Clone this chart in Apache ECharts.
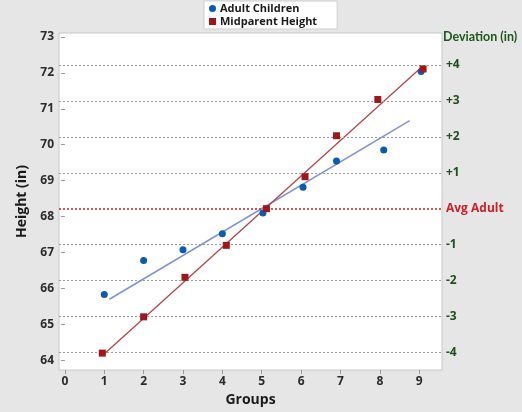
<!DOCTYPE html>
<html>
<head>
<meta charset="utf-8">
<script src="https://cdn.jsdelivr.net/npm/echarts@6/dist/echarts.min.js"></script>
<style>
html,body{margin:0;padding:0;background:#e6e6e6;}
#c{width:522px;height:412px;}
</style>
</head>
<body>
<div id="c"></div>
<script>
// ---- data ----
const xTicks = [0, 1, 2, 3, 4, 5, 6, 7, 8, 9];
const yTicks = [64, 65, 66, 67, 68, 69, 70, 71, 72, 73];
const avgAdult = 68.22;
const deviationOffsets = [-4, -3, -2, -1, 0, 1, 2, 3, 4];
const deviationLabels = ['-4', '-3', '-2', '-1', 'Avg Adult', '+1', '+2', '+3', '+4'];

const childGroups = [1.0, 2.0, 3.0, 4.0, 5.03, 6.05, 6.9, 8.1, 9.05];
const childHeights = [65.83, 66.78, 67.08, 67.52, 68.10, 68.82, 69.55, 69.85, 72.04];
const parentGroups = [0.95, 2.0, 3.05, 4.1, 5.12, 6.1, 6.9, 7.95, 9.1];
const parentHeights = [64.20, 65.21, 66.31, 67.20, 68.22, 69.11, 70.25, 71.26, 72.11];

const childFitX = [1.13, 8.76];
const childFitY = [65.70, 70.67];
const parentFitX = [0.97, 9.1];
const parentFitY = [64.15, 72.20];

const seriesNames = ['Adult Children', 'Midparent Height'];

// ---- build ----
const zip = (a, b) => a.map((v, i) => [v, b[i]]);
const devValues = deviationOffsets.map(d => +(avgAdult + d).toFixed(2));
const FONT = '"Open Sans", "Noto Sans", sans-serif';

const chart = echarts.init(document.getElementById('c'), null, {renderer: 'canvas'});
chart.setOption({
  backgroundColor: '#e6e6e6',
  animation: false,
  textStyle: {fontFamily: FONT},
  legend: {
    left: 204, top: 1,
    orient: 'vertical',
    data: [
      {name: seriesNames[0], icon: 'circle'},
      {name: seriesNames[1], icon: 'rect'}
    ],
    itemWidth: 7, itemHeight: 7, itemGap: 2,
    backgroundColor: '#ffffff',
    borderColor: '#cfcfcf', borderWidth: 1, borderRadius: 0,
    padding: [2, 20, 2, 5],
    textStyle: {fontSize: 11, fontWeight: 'bold', color: '#1a1a1a', fontFamily: FONT, padding: [0, 0, 0, -1]}
  },
  grid: {
    left: 59, top: 33, right: 80, bottom: 38,
    show: true, backgroundColor: '#ffffff', borderColor: '#c8c8c8', borderWidth: 1
  },
  xAxis: {
    type: 'value', min: -0.15, max: 9.58,
    name: 'Groups', nameLocation: 'middle', nameGap: 23,
    nameTextStyle: {fontSize: 14, fontWeight: 'bold', color: '#1a1a1a', fontFamily: FONT},
    axisLine: {show: false},
    axisTick: {show: true, customValues: xTicks, length: 4, lineStyle: {color: '#9a9a9a'}},
    axisLabel: {customValues: xTicks, fontSize: 12, fontWeight: 'bold', color: '#2b2b2b', margin: 6, fontFamily: FONT},
    splitLine: {show: false}
  },
  yAxis: [
    {
      type: 'value', min: 63.73, max: 73.11,
      name: 'Height (in)', nameLocation: 'middle', nameGap: 28, nameRotate: 90,
      nameTextStyle: {fontSize: 14, fontWeight: 'bold', color: '#1a1a1a', fontFamily: FONT},
      axisLine: {show: false},
      axisTick: {show: true, customValues: yTicks, length: 4, lineStyle: {color: '#9a9a9a'}},
      axisLabel: {customValues: yTicks, fontSize: 12, fontWeight: 'bold', color: '#2b2b2b', margin: 5, fontFamily: FONT},
      splitLine: {show: false}
    },
    {
      type: 'value', min: 63.73, max: 73.11, position: 'right',
      axisLine: {show: false},
      axisTick: {show: false, customValues: devValues},
      axisLabel: {
        customValues: devValues, fontSize: 12, fontWeight: 'bold', margin: 4, fontFamily: FONT,
        formatter: function (v) {
          let best = 0;
          devValues.forEach((d, i) => { if (Math.abs(d - v) < Math.abs(devValues[best] - v)) best = i; });
          return deviationLabels[best];
        },
        color: function (v) {
          return Math.abs(v - avgAdult) < 0.01 ? '#d0202a' : '#1f4f1f';
        }
      },
      splitLine: {show: false}
    }
  ],
  graphic: [
    {type: 'text', left: 443, top: 30,
     style: {text: 'Deviation (in)', fill: '#1c561c', font: 'bold 12.5px Lato, "Open Sans", sans-serif'}}
  ],
  series: [
    {
      name: '_grid', type: 'line', data: [], silent: true,
      markLine: {
        silent: true, symbol: 'none', label: {show: false},
        data: devValues.map((v, i) => ({
          yAxis: v,
          lineStyle: deviationOffsets[i] === 0
            ? {color: '#d42a2a', type: [2, 2], width: 1.6}
            : {color: '#9a9a9a', type: [2, 2], width: 1}
        }))
      }
    },
    {
      name: 'childFit', type: 'line', data: zip(childFitX, childFitY),
      symbol: 'none', lineStyle: {color: '#7f93d8', width: 1.6}, silent: true, z: 3
    },
    {
      name: 'parentFit', type: 'line', data: zip(parentFitX, parentFitY),
      symbol: 'none', lineStyle: {color: '#b54545', width: 1.3}, silent: true, z: 3
    },
    {
      name: seriesNames[0], type: 'scatter', data: zip(childGroups, childHeights),
      symbol: 'circle', symbolSize: 7, itemStyle: {color: '#0b5cb0', opacity: 1}, z: 5
    },
    {
      name: seriesNames[1], type: 'scatter', data: zip(parentGroups, parentHeights),
      symbol: 'rect', symbolSize: 7, itemStyle: {color: '#a0161a', opacity: 1}, z: 5
    }
  ]
});
</script>
</body>
</html>
